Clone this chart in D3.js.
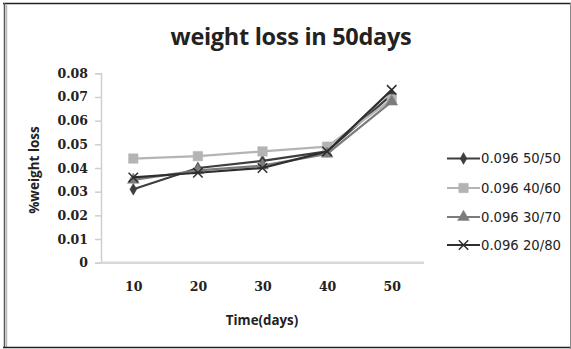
<!DOCTYPE html>
<html>
<head>
<meta charset="utf-8">
<script src="https://cdn.jsdelivr.net/npm/d3@7"></script>
<style>
  html, body { margin: 0; padding: 0; background: #fff; }
  svg { display: block; }
  text { font-family: "Open Sans", Lato, sans-serif; fill: #222; }
</style>
</head>
<body>
<svg id="chart" width="571" height="349"></svg>
<script>
// Sampling days
const days = ["10", "20", "30", "40", "50"];

// Percent weight loss per composition
const s5050 = [0.031, 0.040, 0.043, 0.047, 0.071];
const s4060 = [0.044, 0.045, 0.047, 0.049, 0.069];
const s3070 = [0.035, 0.039, 0.041, 0.046, 0.068];
const s2080 = [0.036, 0.038, 0.040, 0.047, 0.073];

const seriesNames = ["0.096 50/50", "0.096 40/60", "0.096 30/70", "0.096 20/80"];
const yTicks = [0, 0.01, 0.02, 0.03, 0.04, 0.05, 0.06, 0.07, 0.08];

const series = [
  { name: seriesNames[0], values: s5050, color: "#3e3e3e", symbol: d3.symbolDiamond, size: 40 },
  { name: seriesNames[1], values: s4060, color: "#b4b4b4", symbol: d3.symbolSquare, size: 90 },
  { name: seriesNames[2], values: s3070, color: "#7c7c7c", symbol: d3.symbolTriangle, size: 60 },
  { name: seriesNames[3], values: s2080, color: "#2e2e2e", symbol: d3.symbolX, size: 60 }
];

const svg = d3.select("#chart");
const W = 571, H = 349;

// Outer frame
svg.append("rect").attr("x", 0).attr("y", 0).attr("width", W).attr("height", H).attr("fill", "#fff");
svg.append("line").attr("x1", 3).attr("x2", W).attr("y1", 3.5).attr("y2", 3.5).attr("stroke", "#222").attr("stroke-width", 1.5);
svg.append("line").attr("x1", 4.5).attr("x2", 4.5).attr("y1", 3).attr("y2", H - 2).attr("stroke", "#555").attr("stroke-width", 1.5);
svg.append("line").attr("x1", 6.5).attr("x2", 6.5).attr("y1", 4).attr("y2", H - 2).attr("stroke", "#bbb").attr("stroke-width", 1.5);
svg.append("line").attr("x1", 3).attr("x2", W).attr("y1", H - 1.5).attr("y2", H - 1.5).attr("stroke", "#222").attr("stroke-width", 1.5);
svg.append("line").attr("x1", W - 0.5).attr("x2", W - 0.5).attr("y1", 3).attr("y2", H).attr("stroke", "#888").attr("stroke-width", 1);

// Plot area
const plot = { left: 101, right: 424, top: 73.3, bottom: 262.7 };

const x = d3.scalePoint().domain(days).range([plot.left, plot.right]).padding(0.5);
const y = d3.scaleLinear().domain([0, 0.08]).range([plot.bottom, plot.top]);

// Title
svg.append("text")
  .attr("x", 291).attr("y", 45)
  .attr("text-anchor", "middle")
  .attr("font-size", 23.5).attr("font-weight", "bold")
  .attr("letter-spacing", -0.3)
  .text("weight loss in 50days");

// Y axis
const yAxis = svg.append("g")
  .attr("transform", `translate(${plot.left},0)`)
  .call(d3.axisLeft(y).tickValues(yTicks).tickSize(6).tickPadding(7)
    .tickFormat(d => d === 0 ? "0" : d3.format(".2f")(d)));
yAxis.select(".domain").attr("stroke", "#cfcfcf").attr("stroke-width", 1.5);
yAxis.selectAll(".tick line").attr("stroke", "#cfcfcf").attr("stroke-width", 1.5);
yAxis.selectAll(".tick text")
  .attr("font-size", 12.5).attr("font-weight", "bold").attr("fill", "#444")
  .style("font-family", "'DejaVu Serif', serif");

// X axis
const xAxis = svg.append("g")
  .attr("transform", `translate(0,${plot.bottom})`)
  .call(d3.axisBottom(x).tickSize(0).tickPadding(19));
xAxis.select(".domain").attr("stroke", "#d8d8d8").attr("stroke-width", 2.5)
  .attr("d", `M${plot.left},0H${plot.right}`);
xAxis.selectAll(".tick text")
  .attr("font-size", 12.5).attr("font-weight", "bold").attr("fill", "#444")
  .style("font-family", "'DejaVu Serif', serif");

// Axis titles
svg.append("text")
  .attr("x", 262).attr("y", 325)
  .attr("text-anchor", "middle")
  .attr("font-size", 13.3).attr("font-weight", "bold")
  .text("Time(days)");

svg.append("text")
  .attr("transform", "translate(39,170) rotate(-90)")
  .attr("text-anchor", "middle")
  .attr("font-size", 13.5).attr("font-weight", "bold")
  .text("%weight loss");

// Series lines and markers
const line = d3.line().x((d, i) => x(days[i])).y(d => y(d));

const groups = svg.append("g").selectAll("g.series").data(series).join("g").attr("class", "series");

groups.append("path")
  .attr("d", d => line(d.values))
  .attr("fill", "none")
  .attr("stroke", d => d.color)
  .attr("stroke-width", 2.2)
  .attr("stroke-linejoin", "round");

groups.each(function (s) {
  const g = d3.select(this);
  g.selectAll("path.mark").data(s.values).join("path")
    .attr("class", "mark")
    .attr("transform", (d, i) => `translate(${x(days[i])},${y(d)})`)
    .attr("d", d3.symbol().type(s.symbol).size(s.size))
    .attr("fill", s.symbol === d3.symbolX ? "none" : s.color)
    .attr("stroke", s.color)
    .attr("stroke-width", s.symbol === d3.symbolX ? 1.5 : 0.5);
});

// Legend
const legendRows = [158.5, 188, 217, 245];
const legend = svg.append("g").selectAll("g").data(series).join("g")
  .attr("transform", (d, i) => `translate(447,${legendRows[i]})`);
legend.append("line").attr("x1", 0).attr("x2", 33).attr("y1", 0).attr("y2", 0)
  .attr("stroke", d => d.color).attr("stroke-width", 2.2);
legend.append("path")
  .attr("transform", "translate(16.5,0)")
  .attr("d", d => d3.symbol().type(d.symbol).size(d.size)())
  .attr("fill", d => d.symbol === d3.symbolX ? "none" : d.color)
  .attr("stroke", d => d.color)
  .attr("stroke-width", d => d.symbol === d3.symbolX ? 1.5 : 0.5);
legend.append("text")
  .attr("x", 34).attr("y", 0).attr("dy", "0.35em")
  .attr("font-size", 13.2)
  .attr("fill", "#333")
  .style("font-family", "'DejaVu Sans', sans-serif")
  .text(d => d.name);
</script>
</body>
</html>
